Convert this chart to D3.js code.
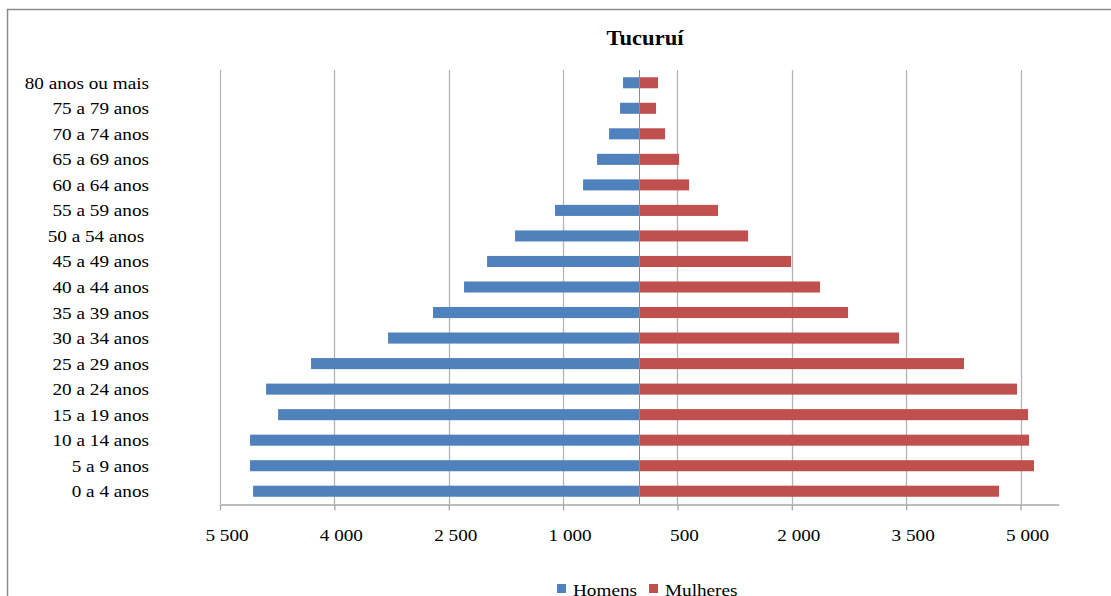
<!DOCTYPE html>
<html>
<head>
<meta charset="utf-8">
<script src="https://cdn.jsdelivr.net/npm/d3@7"></script>
<style>
  html, body { margin: 0; padding: 0; background: #fff; }
  svg text { font-family: "Liberation Serif", "Times New Roman", serif; white-space: pre; fill: #000; }
</style>
</head>
<body>
<svg id="chart" width="1111" height="596"></svg>
<script>
// Faixas etárias, da mais velha (topo) à mais nova (base)
const categories = [
  "80 anos ou mais", "75 a 79 anos", "70 a 74 anos", "65 a 69 anos",
  "60 a 64 anos", "55 a 59 anos", "50 a 54 anos ", "45 a 49 anos",
  "40 a 44 anos", "35 a 39 anos", "30 a 34 anos", "25 a 29 anos",
  "20 a 24 anos", "15 a 19 anos", "10 a 14 anos", "5 a 9 anos", "0 a 4 anos"
];
// População por sexo em cada faixa
const homens = [214, 253, 397, 555, 738, 1106, 1630, 1997, 2299, 2706, 3296, 4306, 4896, 4738, 5106, 5106, 5066];
const mulheres = [245, 219, 337, 521, 652, 1032, 1426, 1990, 2370, 2737, 3406, 4258, 4953, 5098, 5111, 5176, 4717];
// Marcas do eixo horizontal (homens à esquerda, com sinal negativo)
const tickValues = [-5500, -4000, -2500, -1000, 500, 2000, 3500, 5000];
const seriesNames = ["Homens", "Mulheres"];
const colors = ["#4F81BD", "#C0504D"];

const FONT = "'Liberation Serif', 'Times New Roman', serif";
const STRETCH = 1.13; // texto levemente alargado na horizontal

// Escreve um texto na posição (px, py), alargado horizontalmente
function label(parent, px, py, str, opts = {}) {
  return parent.append("text")
    .attr("transform", `translate(${px},${py}) scale(${STRETCH},1)`)
    .attr("text-anchor", opts.anchor || "start")
    .attr("font-family", FONT)
    .attr("font-size", opts.size || 17)
    .attr("font-weight", opts.weight || "normal")
    .attr("fill", "#000")
    .text(str);
}

const svg = d3.select("#chart");

// Moldura da área do gráfico
svg.append("rect")
  .attr("x", 7.5).attr("y", 9.5)
  .attr("width", 1120).attr("height", 620)
  .attr("fill", "none").attr("stroke", "#8c8c8c").attr("stroke-width", 1.5);

const x = d3.scaleLinear().domain([-5500, 5500]).range([220, 1058.7]);
const y = d3.scaleBand().domain(categories).range([70, 504])
  .paddingInner(0.567).paddingOuter(0.2835);

const fmt = v => d3.format(",")(Math.abs(v)).replace(/,/g, " ");

// Linhas de grade verticais
svg.append("g")
  .selectAll("line").data(tickValues).join("line")
  .attr("x1", d => Math.round(x(d)) + 0.5).attr("x2", d => Math.round(x(d)) + 0.5)
  .attr("y1", 70).attr("y2", 504)
  .attr("stroke", "#b4b4b4").attr("stroke-width", 1.3);

// Eixo horizontal (linha e marcas); rótulos escritos à parte
const xAxis = d3.axisBottom(x).tickValues(tickValues).tickFormat("").tickSize(6).tickSizeOuter(0);
const gx = svg.append("g").attr("transform", "translate(0,504.5)").call(xAxis);
gx.select(".domain").attr("stroke", "#a6a6a6").attr("stroke-width", 1.3);
gx.selectAll(".tick line").attr("stroke", "#a6a6a6").attr("stroke-width", 1.3);
gx.selectAll(".tick text").remove();
const gxl = svg.append("g");
tickValues.forEach(v => label(gxl, x(v) + 7, 541, fmt(v), { anchor: "middle" }));

// Barras
svg.append("g").selectAll("rect").data(homens).join("rect")
  .attr("x", d => x(-d)).attr("y", (d, i) => y(categories[i]))
  .attr("width", d => x(0) - x(-d)).attr("height", y.bandwidth())
  .attr("fill", colors[0]);
svg.append("g").selectAll("rect").data(mulheres).join("rect")
  .attr("x", x(0)).attr("y", (d, i) => y(categories[i]))
  .attr("width", d => x(d) - x(0)).attr("height", y.bandwidth())
  .attr("fill", colors[1]);

// Eixo vertical das categorias no zero
svg.append("line")
  .attr("x1", Math.round(x(0)) + 0.5).attr("x2", Math.round(x(0)) + 0.5)
  .attr("y1", 70).attr("y2", 504)
  .attr("stroke", "#8c8c8c").attr("stroke-width", 1);

// Rótulos das faixas etárias
const gy = svg.append("g");
categories.forEach(c => label(gy, 149, y(c) + y.bandwidth() / 2 + 6, c, { anchor: "end" }));

// Título
label(svg, 645, 45, "Tucuruí", { anchor: "middle", size: 20, weight: "bold" });

// Legenda
const legend = svg.append("g");
const legendX = [557, 649];
seriesNames.forEach((name, i) => {
  legend.append("rect").attr("x", legendX[i]).attr("y", 584).attr("width", 9).attr("height", 9).attr("fill", colors[i]);
  label(legend, legendX[i] + 16, 596, name);
});
</script>
</body>
</html>
